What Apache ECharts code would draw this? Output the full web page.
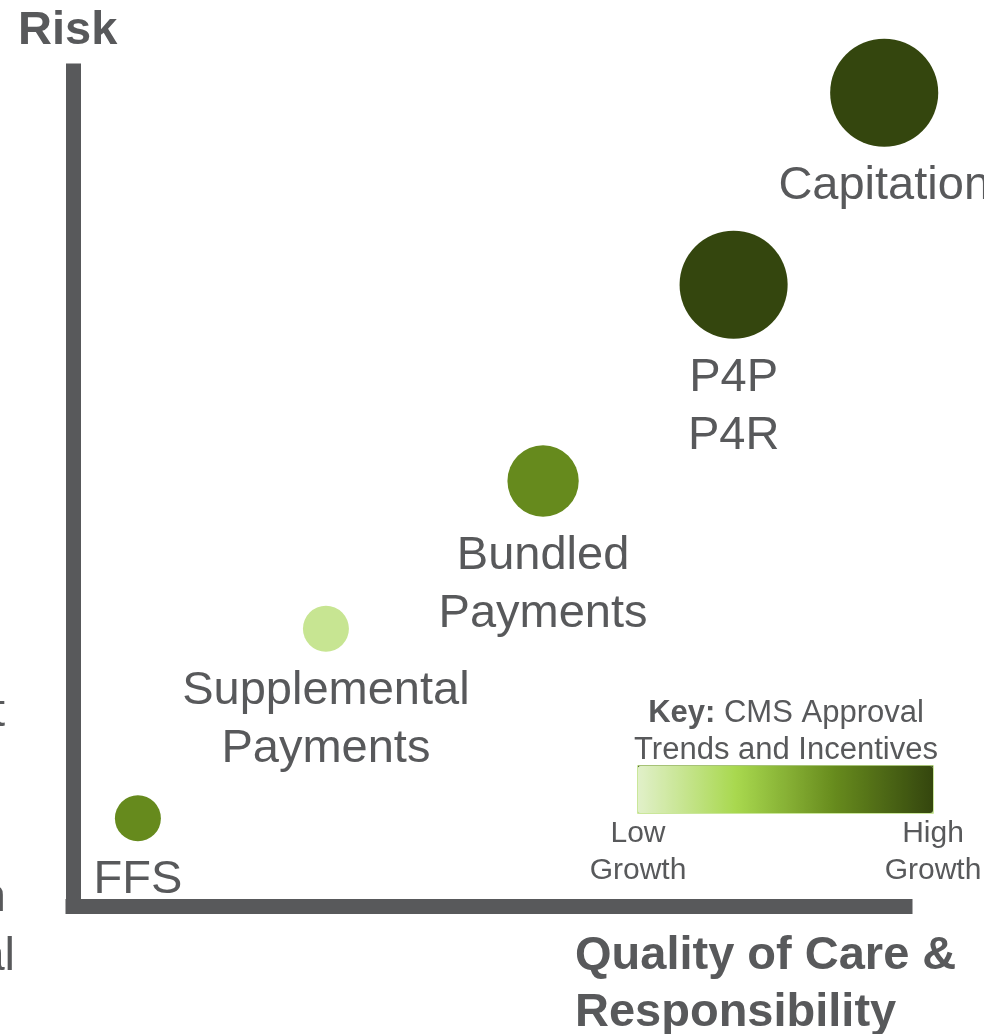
<!DOCTYPE html>
<html>
<head>
<meta charset="utf-8">
<title>Payment models: risk vs quality of care</title>
<script src="https://cdn.jsdelivr.net/npm/echarts@6/dist/echarts.min.js"></script>
<style>
    html, body { margin: 0; padding: 0; background: #ffffff; }
    #chart { width: 984px; height: 1034px; }
</style>
</head>
<body>
<div id="chart"></div>
<script>
// payment models, left to right along the quality axis
const models = ['FFS', 'Supplemental\nPayments', 'Bundled\nPayments', 'P4P\nP4R', 'Capitation'];
const quality = [0.78, 3.04, 5.65, 7.94, 9.75];
const risk = [1.05, 3.32, 5.09, 7.44, 9.74];
// CMS approval trends and incentives (0 = low growth, 10 = high growth)
const growth = [6.7, 1.5, 6.7, 10, 10];
// relative bubble magnitude
const magnitude = [1, 1, 1.55, 2.35, 2.35];

const growthRange = [0, 10];
const keyLow = 'Low\nGrowth';
const keyHigh = 'High\nGrowth';

const grey = '#58595b';
const fontFamily = "'Liberation Sans', Arial, sans-serif";
const greens = ['#e1f0c9', '#a8d84e', '#678b1d', '#34460e'];

window.onload = () => {
    const chart = echarts.init(document.getElementById('chart'));
    chart.setOption(createOption());
};

function createOption() {
    const seriesData = models.map((name, i) => ({
        name: name,
        value: [quality[i], risk[i], growth[i], magnitude[i]]
    }));

    const axisLine = {
        show: true,
        onZero: false,
        lineStyle: { color: grey, width: 15, cap: 'square' }
    };

    return {
        animation: false,
        grid: { left: 73, right: 79, top: 71, bottom: 128 },
        xAxis: {
            type: 'value',
            min: 0,
            max: 10,
            axisLine: axisLine,
            axisTick: { show: false },
            axisLabel: { show: false },
            splitLine: { show: false }
        },
        yAxis: {
            type: 'value',
            min: 0,
            max: 10,
            axisLine: axisLine,
            axisTick: { show: false },
            axisLabel: { show: false },
            splitLine: { show: false }
        },
        visualMap: {
            type: 'continuous',
            dimension: 2,
            min: growthRange[0],
            max: growthRange[1],
            orient: 'horizontal',
            calculable: false,
            hoverLink: false,
            realtime: false,
            text: null,
            showLabel: false,
            left: 638,
            top: 766,
            padding: 0,
            itemWidth: 47,
            itemHeight: 295,
            inRange: { color: greens },
            seriesIndex: 0
        },
        graphic: createTexts(),
        series: [{
            type: 'scatter',
            clip: false,
            data: seriesData,
            symbolSize: val => val[3] * 46,
            itemStyle: { opacity: 1 },
            label: {
                show: true,
                position: 'bottom',
                distance: 10,
                formatter: p => p.name,
                color: grey,
                fontFamily: fontFamily,
                fontSize: 47,
                lineHeight: 58,
                align: 'center'
            },
            emphasis: { disabled: true }
        }]
    };
}

function createTexts() {
    const base = { fill: grey, fontFamily: fontFamily };
    return [
        {
            type: 'text', left: 18, top: 7,
            style: Object.assign({}, base, { text: 'Risk', fontSize: 47, fontWeight: 'bold', lineHeight: 48 })
        },
        {
            type: 'text', x: 575, y: 928,
            style: Object.assign({}, base, {
                text: 'Quality of Care &\nResponsibility',
                fontSize: 47, fontWeight: 'bold', lineHeight: 57,
                align: 'left', verticalAlign: 'top'
            })
        },
        {
            type: 'text', x: 786, y: 695,
            style: Object.assign({}, base, {
                text: '{b|Key:} CMS Approval\nTrends and Incentives',
                fontSize: 31, lineHeight: 37, align: 'center', verticalAlign: 'top',
                rich: { b: { fontWeight: 'bold', fontSize: 31, fill: grey, fontFamily: fontFamily } }
            })
        },
        // thin bevel round the key bar
        {
            type: 'rect',
            shape: { x: 638, y: 766, width: 295, height: 47 },
            style: { fill: null, stroke: '#b9e07a', lineWidth: 1.5 }
        },
        {
            type: 'line',
            shape: { x1: 638, y1: 766.5, x2: 933, y2: 766.5 },
            style: { stroke: '#3c5412', lineWidth: 1.5 }
        },
        {
            type: 'text', x: 638, y: 815,
            style: Object.assign({}, base, { text: keyLow, fontSize: 30, lineHeight: 37, align: 'center', verticalAlign: 'top' })
        },
        {
            type: 'text', x: 933, y: 815,
            style: Object.assign({}, base, { text: keyHigh, fontSize: 30, lineHeight: 37, align: 'center', verticalAlign: 'top' })
        },
        // bits of a neighbouring label cut off by the left edge
        {
            type: 'text', x: 5, y: 713,
            style: Object.assign({}, base, { text: 't', fontSize: 47, align: 'right', verticalAlign: 'middle' })
        },
        {
            type: 'text', x: 6, y: 898,
            style: Object.assign({}, base, { text: 'n', fontSize: 47, align: 'right', verticalAlign: 'middle' })
        },
        {
            type: 'text', x: 15, y: 957,
            style: Object.assign({}, base, { text: 'al', fontSize: 47, align: 'right', verticalAlign: 'middle' })
        }
    ];
}
</script>
</body>
</html>
